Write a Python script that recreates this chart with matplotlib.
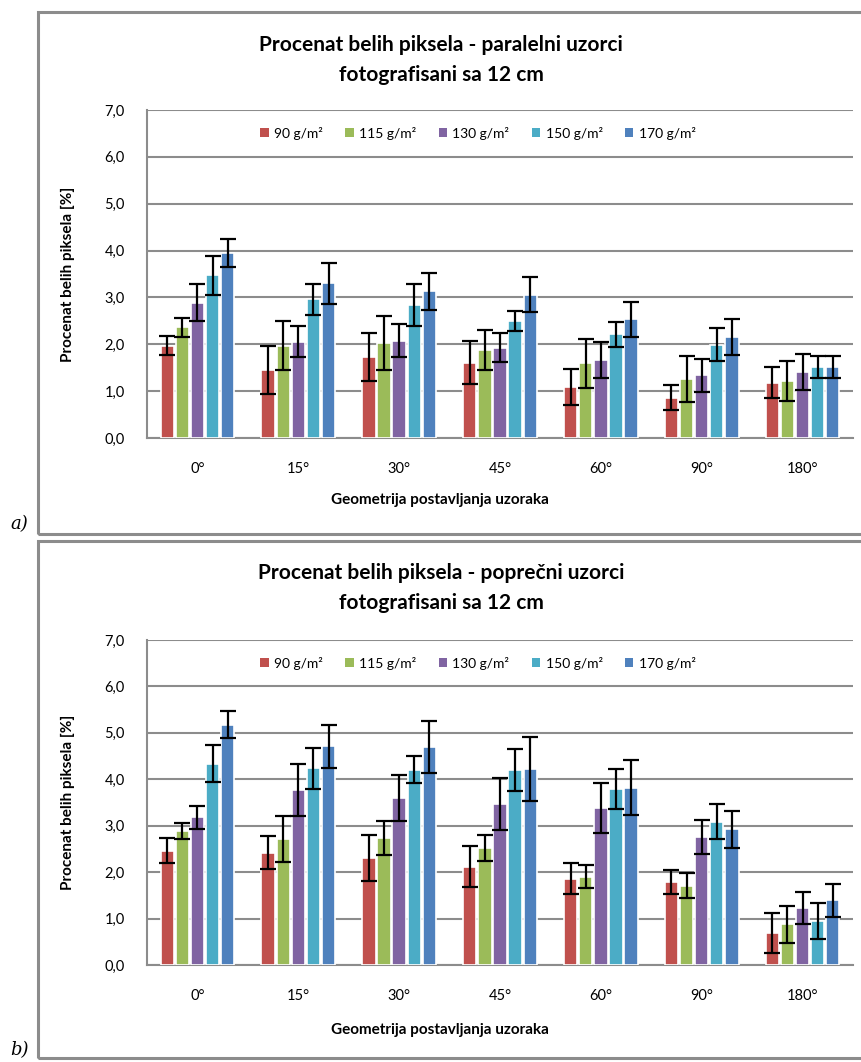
import matplotlib
matplotlib.use("Agg")
import matplotlib.pyplot as plt
import numpy as np
from matplotlib.patches import Rectangle, Patch

plt.rcParams['font.family'] = ['Lato', 'DejaVu Sans']

categories = ["0°", "15°", "30°", "45°", "60°", "90°", "180°"]
series = ["90 g/m²", "115 g/m²", "130 g/m²", "150 g/m²", "170 g/m²"]
colors = ["#C0504D", "#9BBB59", "#8064A2", "#4BACC6", "#4F81BD"]

# panel a) paralelni
a_vals = [
    [1.97, 1.45, 1.73, 1.61, 1.09, 0.86, 1.18],
    [2.36, 1.97, 2.03, 1.88, 1.59, 1.26, 1.21],
    [2.89, 2.05, 2.08, 1.93, 1.66, 1.34, 1.41],
    [3.47, 2.96, 2.84, 2.50, 2.21, 1.99, 1.52],
    [3.94, 3.30, 3.13, 3.06, 2.53, 2.16, 1.52],
]
a_err = [
    [0.20, 0.52, 0.52, 0.46, 0.39, 0.27, 0.33],
    [0.20, 0.52, 0.58, 0.43, 0.53, 0.50, 0.43],
    [0.40, 0.33, 0.35, 0.31, 0.38, 0.35, 0.39],
    [0.42, 0.33, 0.44, 0.21, 0.27, 0.35, 0.23],
    [0.30, 0.43, 0.39, 0.37, 0.37, 0.38, 0.23],
]
# panel b) poprecni
b_vals = [
    [2.46, 2.42, 2.30, 2.12, 1.86, 1.79, 0.69],
    [2.88, 2.72, 2.74, 2.53, 1.90, 1.71, 0.88],
    [3.18, 3.78, 3.60, 3.46, 3.39, 2.76, 1.23],
    [4.34, 4.24, 4.21, 4.20, 3.79, 3.09, 0.95],
    [5.18, 4.71, 4.69, 4.23, 3.82, 2.92, 1.39],
]
b_err = [
    [0.27, 0.36, 0.49, 0.44, 0.33, 0.26, 0.43],
    [0.17, 0.50, 0.37, 0.28, 0.25, 0.27, 0.40],
    [0.25, 0.56, 0.50, 0.56, 0.54, 0.37, 0.35],
    [0.39, 0.44, 0.29, 0.45, 0.43, 0.38, 0.38],
    [0.29, 0.46, 0.56, 0.69, 0.59, 0.40, 0.35],
]

titles = ["Procenat belih piksela - paralelni uzorci\nfotografisani sa 12 cm",
          "Procenat belih piksela - poprečni uzorci\nfotografisani sa 12 cm"]
ylabel = "Procenat belih piksela [%]"
xlabel = "Geometrija postavljanja uzoraka"
yticks = [0, 1, 2, 3, 4, 5, 6, 7]
panel_labels = ["a)", "b)"]

W, H = 861, 1062
fig = plt.figure(figsize=(W / 100, H / 100), dpi=100)

def fx(px):
    return px / W

def fy(py):
    return 1 - py / H

panels = [
    dict(vals=a_vals, err=a_err, top=110, bot=438, box=(12, 534), title_y=(45, 75),
         tick_y=463, xl_y=500, lab_y=524, leg_y=133),
    dict(vals=b_vals, err=b_err, top=640, bot=965, box=(541, 1058), title_y=(573, 603),
         tick_y=990, xl_y=1030, lab_y=1050, leg_y=663),
]

x = np.arange(len(categories))
n = len(series)
slot = 0.75 / n
bw = slot * 0.88

for i, p in enumerate(panels):
    # panel border
    fig.patches.append(Rectangle((fx(38), fy(p['box'][1])), fx(900 - 38),
                                 (p['box'][1] - p['box'][0]) / H,
                                 transform=fig.transFigure, fill=False,
                                 edgecolor="#8C8C8C", linewidth=2.2, zorder=0))
    ax = fig.add_axes([fx(147), fy(p['bot']), fx(853 - 147), (p['bot'] - p['top']) / H])
    for j in range(n):
        offs = x - 0.375 + slot * (j + 0.5)
        ax.bar(offs, p['vals'][j], width=bw, color=colors[j], edgecolor="white",
               linewidth=1.2, zorder=3,
               yerr=p['err'][j], error_kw=dict(ecolor="black", elinewidth=1.6,
                                               capsize=6, capthick=1.6, zorder=4))
    ax.set_ylim(0, 7)
    ax.set_xlim(-0.5, len(categories) - 0.5)
    ax.set_yticks(yticks)
    ax.set_yticklabels([f"{v:.1f}".replace(".", ",") for v in yticks], fontsize=10.5)
    ax.set_xticks(x)
    ax.set_xticklabels(categories, fontsize=10.5)
    ax.tick_params(axis='both', length=0)
    ax.tick_params(axis='y', pad=16)
    ax.tick_params(axis='x', pad=17)
    ax.yaxis.grid(True, color="#8C8C8C", linewidth=1.5, zorder=0)
    ax.set_axisbelow(True)
    for s in ["top", "right"]:
        ax.spines[s].set_visible(False)
    for s in ["left", "bottom"]:
        ax.spines[s].set_color("#8C8C8C")
        ax.spines[s].set_linewidth(1.5)
    ax.set_ylabel(ylabel, fontsize=11, fontweight="bold")
    ax.yaxis.set_label_coords(-(147 - 75) / (853 - 147), 0.5)
    fig.text(fx(441), fy(p['title_y'][0]), titles[i].split("\n")[0], ha="center", va="center",
             fontsize=15, fontweight="bold")
    fig.text(fx(441), fy(p['title_y'][1]), titles[i].split("\n")[1], ha="center", va="center",
             fontsize=15, fontweight="bold")
    fig.text(fx(440), fy(p['xl_y']), xlabel, ha="center", va="center",
             fontsize=11, fontweight="bold")
    fig.text(fx(10), fy(p['lab_y']), panel_labels[i], ha="left", va="center",
             fontsize=13, style="italic", family="DejaVu Serif")
    handles = [Patch(facecolor=c, edgecolor="none") for c in colors]
    fig.legend(handles, series, loc="center", bbox_to_anchor=(fx(478), fy(p['leg_y'])),
               ncol=5, frameon=False, fontsize=10, handlelength=0.6, handleheight=0.6,
               handletextpad=0.4, columnspacing=1.6)

fig.savefig("out.png", dpi=100)
